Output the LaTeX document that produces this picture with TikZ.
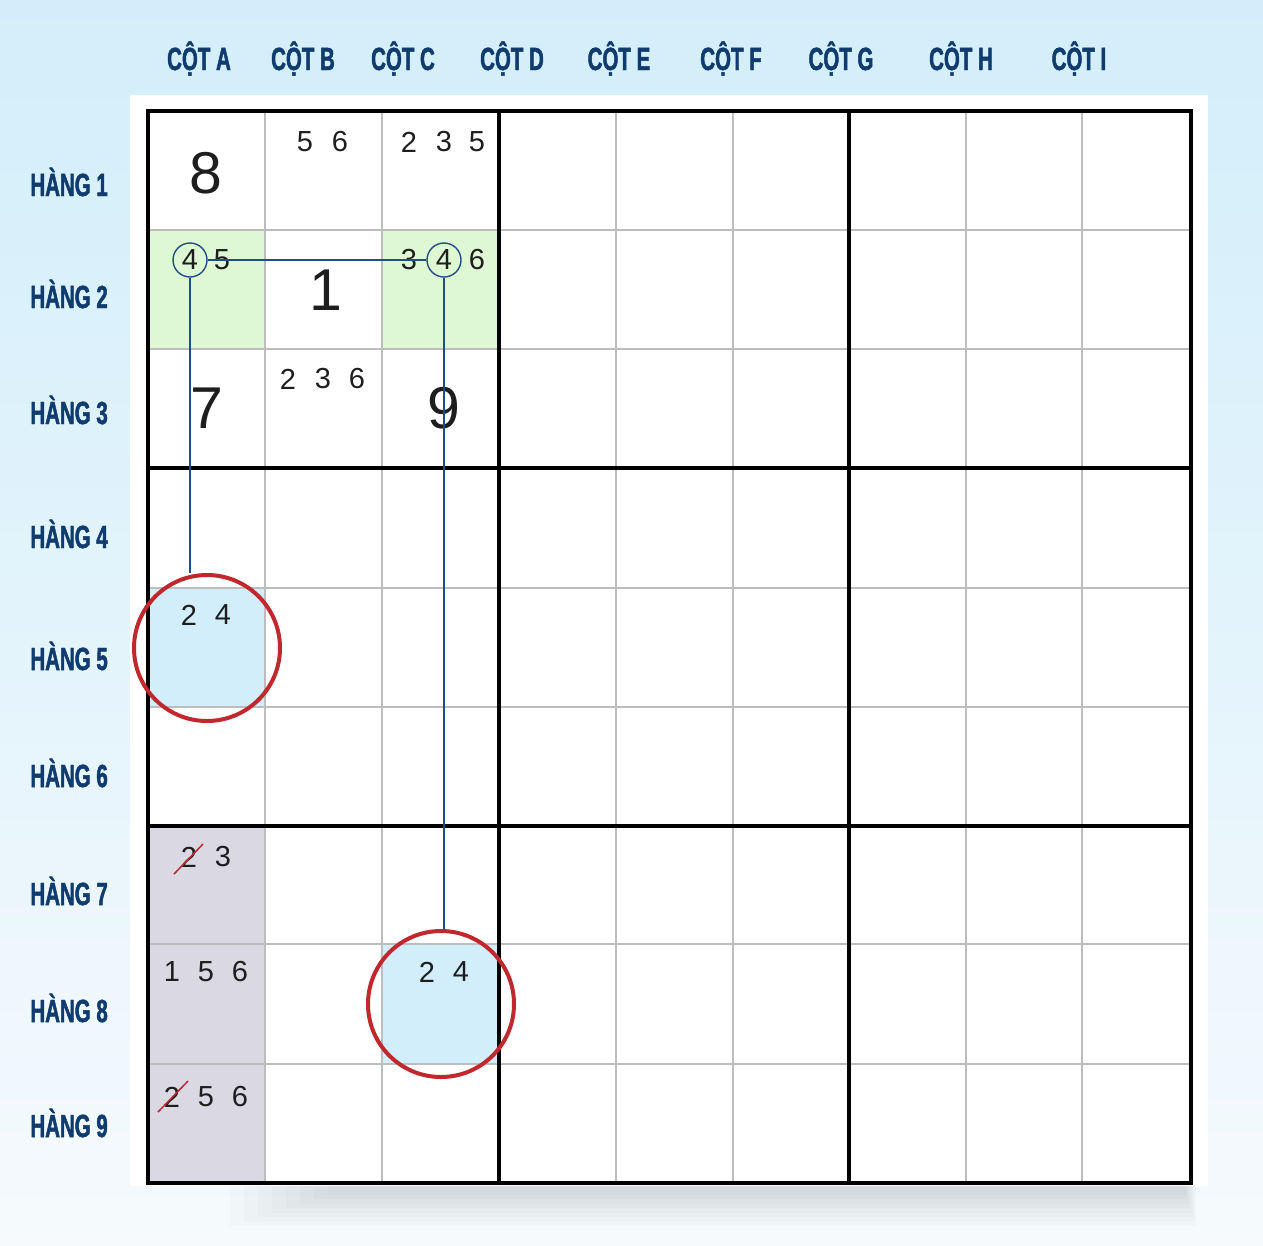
\documentclass[tikz,border=0pt]{standalone}
\usepackage{fontspec}
\setmainfont{Liberation Sans}
\newfontfamily\hdrfont[FakeStretch=0.64,FakeBold=1.5]{Liberation Sans}
\usetikzlibrary{fadings}
\definecolor{navy}{HTML}{0F3B6E}
\definecolor{linkblue}{HTML}{1F4E85}
\definecolor{redc}{HTML}{C0282D}
\definecolor{greenf}{HTML}{DDF8D3}
\definecolor{bluef}{HTML}{D2EEFA}
\definecolor{greyf}{HTML}{D9D8E3}
\definecolor{gridgrey}{HTML}{BDBDBD}
\definecolor{bgtop}{HTML}{D3EEFA}
\definecolor{bgbot}{HTML}{F6FAFD}
\definecolor{ink}{HTML}{1E1E1E}
\begin{document}
\begin{tikzpicture}[x=1pt,y=-1pt,
  hdr/.style={font=\hdrfont\bfseries\fontsize{32}{34}\selectfont, text=navy, inner sep=0pt},
  cand/.style={font=\fontsize{29}{30}\selectfont, text=ink, inner sep=0pt},
  given/.style={font=\fontsize{59}{60}\selectfont, text=ink, inner sep=0pt},
  circ4/.style={circle, draw=linkblue, line width=1.4pt, minimum size=34pt, inner sep=0pt, font=\fontsize{29}{30}\selectfont, text=ink},
  redring/.style={circle, draw=redc, line width=4pt, minimum size=146pt, inner sep=0pt},
  link/.style={draw=linkblue, line width=1.8pt},
  strike/.style={draw=redc, line width=1.5pt},
  thin/.style={draw=gridgrey, line width=2pt},
  thick/.style={draw=black, line width=4.2pt}
]
\useasboundingbox (0,0) rectangle (1263,1245);
% background
\shade[top color=bgtop, bottom color=bgbot, middle color=bgtop!55!bgbot] (0,0) rectangle (1263,1245);
% soft shadow below the board
\foreach \i in {0,...,7}
  \fill[black, opacity=0.014] (230+\i*14,1186) rectangle (1196-\i*1.5,1226-\i*4.5);
% white panel
\fill[white] (130,95) rectangle (1208,1186);
% cell fills
\fill[greenf] (148,230) rectangle (265,349);
\fill[greenf] (382,230) rectangle (499,349);
\fill[bluef] (148,588) rectangle (265,707);
\fill[bluef] (382,944) rectangle (499,1064);
\fill[greyf] (148,826) rectangle (265,1183);
% thin grid lines
\foreach \x in {265,382,616,733,966,1082}
  \draw[thin] (\x,111) -- (\x,1183);
\foreach \y in {230,349,588,707,944,1064}
  \draw[thin] (148,\y) -- (1191,\y);
% thick grid lines
\foreach \x in {499,849}
  \draw[thick] (\x,111) -- (\x,1183);
\foreach \y in {468,826}
  \draw[thick] (148,\y) -- (1191,\y);
\draw[thick, line width=4.6pt] (148,111) rectangle (1191,1183);
% column headers
\foreach \x/\l in {199/A,303/B,403/C,512/D,619/E,731/F,841/G,961/H,1079/I}
  \node[hdr, anchor=base] (col\l) at (\x,70) {CỘT \l};
% row headers
\foreach \y/\n in {196/1,308/2,424/3,548/4,670/5,787/6,905/7,1022/8,1137/9}
  \node[hdr, anchor=base east] (row\n) at (108,\y) {HÀNG \n};
% given digits
\node[given] (gA1) at (206,173) {8};
\node[given] (gB2) at (326,290) {1};
\node[given] (gA3) at (207,408) {7};
\node[given] (gC3) at (444,408) {9};
% candidates
\foreach \x/\y/\d/\n in {305/142/5/b1a, 340/142/6/b1b,
  409/142/2/c1a, 444/142/3/c1b, 477/142/5/c1c,
  222/260/5/a2b, 409/260/3/c2a, 477/260/6/c2c,
  288/379/2/b3a, 323/379/3/b3b, 357/379/6/b3c,
  189/615/2/a5a, 223/615/4/a5b,
  223/857/3/a7b,
  172/972/1/a8a, 206/972/5/a8b, 240/972/6/a8c,
  206/1097/5/a9b, 240/1097/6/a9c,
  427/972/2/c8a, 461/972/4/c8b}
  \node[cand] (\n) at (\x,\y) {\d};
\node[cand] (a7a) at (189,857) {2};
\node[cand] (a9a) at (172,1097) {2};
\draw[strike] ([shift={(-15,17)}]a7a.center) -- ([shift={(14,-13)}]a7a.center);
\draw[strike] ([shift={(-14,15)}]a9a.center) -- ([shift={(16,-16)}]a9a.center);
% circled candidates
\node[circ4] (p1) at (190,260) {4};
\node[circ4] (p2) at (444,260) {4};
% red rings
\node[redring] (r1) at (207,648) {};
\node[redring] (r2) at (441,1004) {};
% links
\draw[link] (p1) -- (p2);
\draw[link] (p1) -- (p1 |- r1.north);
\draw[link] (p2) -- (p2 |- r2.north);
\end{tikzpicture}
\end{document}
